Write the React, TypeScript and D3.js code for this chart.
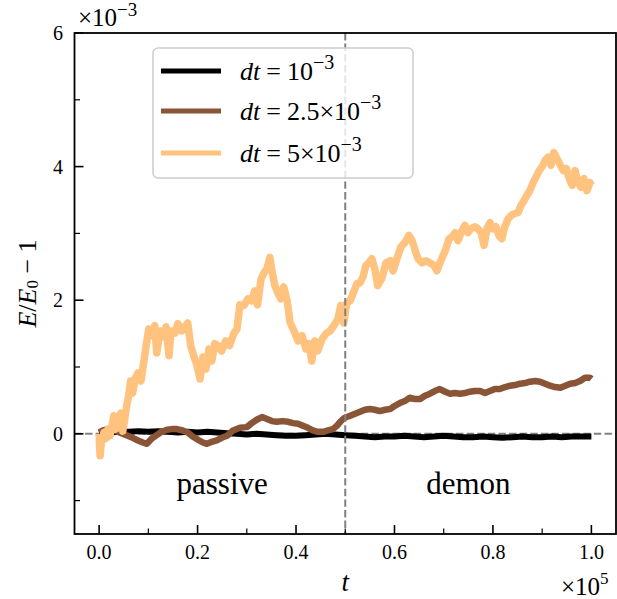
import React from 'react';
import * as d3 from 'd3';

// energy drift E/E0 - 1 (in units of 1e-3) vs t (in units of 1e5)
const driftSmall: [number, number][] = [
  [0, 0], [0.02, 0.02], [0.04, 0.03], [0.06, 0.03], [0.08, 0.04], [0.1, 0.03], [0.12, 0.04],
  [0.14, 0.03], [0.16, 0.02], [0.18, 0.03], [0.2, 0.02], [0.22, 0.03], [0.24, 0.02], [0.26, 0.01],
  [0.28, 0], [0.3, -0.01], [0.32, 0], [0.34, -0.01], [0.36, -0.02], [0.38, -0.03], [0.4, -0.03],
  [0.42, -0.02], [0.44, -0.01], [0.46, 0], [0.48, -0.01], [0.5, -0.02], [0.52, -0.03], [0.54, -0.04],
  [0.56, -0.05], [0.58, -0.04], [0.6, -0.04], [0.62, -0.03], [0.64, -0.04], [0.66, -0.05], [0.68, -0.04],
  [0.7, -0.03], [0.72, -0.04], [0.74, -0.05], [0.76, -0.05], [0.78, -0.04], [0.8, -0.05], [0.82, -0.06],
  [0.84, -0.05], [0.86, -0.04], [0.88, -0.05], [0.9, -0.05], [0.92, -0.04], [0.94, -0.05], [0.96, -0.04],
  [0.98, -0.04], [1.0, -0.04],
];

const driftMid: [number, number][] = [
  [0, 0.02], [0.008, 0.05], [0.018, 0.07], [0.028, 0.06], [0.038, 0.03], [0.048, 0], [0.058, -0.03],
  [0.068, -0.06], [0.079, -0.1], [0.089, -0.13], [0.097, -0.15], [0.107, -0.07], [0.117, -0.02],
  [0.127, 0.03], [0.138, 0.06], [0.148, 0.07], [0.158, 0.07], [0.17, 0.05], [0.18, 0.02], [0.19, -0.04],
  [0.201, -0.09], [0.211, -0.13], [0.219, -0.15], [0.229, -0.12], [0.239, -0.1], [0.249, -0.06],
  [0.26, -0.03], [0.272, 0.05], [0.286, 0.09], [0.3, 0.1], [0.31, 0.16], [0.32, 0.21], [0.331, 0.25],
  [0.341, 0.22], [0.351, 0.19], [0.361, 0.18], [0.373, 0.19], [0.384, 0.18], [0.394, 0.16], [0.404, 0.15],
  [0.414, 0.12], [0.424, 0.09], [0.434, 0.05], [0.444, 0.03], [0.455, 0.03], [0.465, 0.05], [0.475, 0.07],
  [0.483, 0.12], [0.491, 0.19], [0.499, 0.24], [0.51, 0.27], [0.52, 0.3], [0.53, 0.33], [0.54, 0.36],
  [0.55, 0.37], [0.56, 0.36], [0.57, 0.34], [0.581, 0.36], [0.591, 0.37], [0.601, 0.42], [0.611, 0.46],
  [0.621, 0.49], [0.631, 0.54], [0.642, 0.52], [0.652, 0.52], [0.662, 0.57], [0.672, 0.6], [0.682, 0.64],
  [0.692, 0.67], [0.703, 0.63], [0.713, 0.6], [0.723, 0.61], [0.733, 0.6], [0.743, 0.61], [0.753, 0.63],
  [0.763, 0.64], [0.774, 0.64], [0.784, 0.61], [0.794, 0.64], [0.804, 0.67], [0.814, 0.67], [0.825, 0.7],
  [0.835, 0.72], [0.845, 0.73], [0.855, 0.75], [0.865, 0.76], [0.875, 0.78], [0.886, 0.79], [0.896, 0.78],
  [0.906, 0.75], [0.916, 0.72], [0.926, 0.7], [0.937, 0.69], [0.947, 0.72], [0.957, 0.75], [0.967, 0.76],
  [0.977, 0.79], [0.987, 0.84], [0.997, 0.84], [1.0, 0.82],
];

const driftLarge: [number, number][] = [
  [0, 0], [0.001, -0.22], [0.002, -0.33], [0.005, -0.1], [0.01, 0.02], [0.014, -0.07], [0.018, 0.07],
  [0.022, -0.03], [0.026, 0.12], [0.03, 0.27], [0.034, 0.07], [0.038, 0.19], [0.044, 0.31], [0.048, 0.04],
  [0.052, 0.22], [0.056, 0.42], [0.06, 0.57], [0.064, 0.79], [0.068, 0.61], [0.073, 0.82], [0.079, 0.91],
  [0.085, 0.79], [0.091, 1.09], [0.097, 1.39], [0.101, 1.57], [0.107, 1.47], [0.113, 1.62], [0.117, 1.21],
  [0.124, 1.54], [0.13, 1.45], [0.136, 1.6], [0.142, 1.17], [0.146, 1.54], [0.154, 1.51], [0.16, 1.65],
  [0.168, 1.54], [0.174, 1.6], [0.18, 1.66], [0.186, 1.32], [0.192, 1.17], [0.199, 1.02], [0.205, 0.82],
  [0.211, 1.15], [0.217, 0.97], [0.223, 1.27], [0.229, 1.09], [0.235, 1.35], [0.241, 1.32], [0.249, 1.24],
  [0.257, 1.39], [0.265, 1.32], [0.274, 1.51], [0.28, 1.57], [0.286, 1.93], [0.294, 1.92], [0.302, 2.02],
  [0.31, 1.99], [0.316, 2.14], [0.322, 1.93], [0.329, 2.32], [0.335, 2.41], [0.341, 2.47], [0.347, 2.64],
  [0.351, 2.44], [0.357, 2.22], [0.363, 2.11], [0.369, 2.02], [0.375, 2.2], [0.382, 1.99], [0.388, 1.66],
  [0.396, 1.54], [0.404, 1.39], [0.412, 1.47], [0.42, 1.27], [0.426, 1.35], [0.432, 1.09], [0.438, 1.39],
  [0.444, 1.24], [0.453, 1.42], [0.461, 1.5], [0.469, 1.54], [0.477, 1.62], [0.485, 1.72], [0.491, 1.92],
  [0.497, 1.66], [0.503, 1.96], [0.51, 1.99], [0.518, 2.14], [0.524, 2.25], [0.53, 2.26], [0.536, 2.35],
  [0.542, 2.52], [0.548, 2.56], [0.554, 2.62], [0.56, 2.47], [0.566, 2.22], [0.574, 2.32], [0.583, 2.56],
  [0.591, 2.59], [0.597, 2.44], [0.605, 2.62], [0.613, 2.8], [0.621, 2.86], [0.629, 2.97], [0.636, 2.89],
  [0.642, 2.74], [0.648, 2.62], [0.656, 2.56], [0.664, 2.59], [0.672, 2.56], [0.68, 2.52], [0.686, 2.44],
  [0.694, 2.59], [0.703, 2.74], [0.711, 2.92], [0.717, 2.95], [0.723, 3.01], [0.729, 2.89], [0.737, 3.04],
  [0.743, 3.12], [0.749, 3.01], [0.755, 3.07], [0.763, 3.1], [0.769, 3.07], [0.776, 3.01], [0.782, 2.82],
  [0.788, 3.07], [0.794, 3.16], [0.8, 3.07], [0.806, 3.1], [0.812, 2.97], [0.818, 2.92], [0.824, 3.1],
  [0.831, 3.22], [0.837, 3.27], [0.845, 3.3], [0.851, 3.31], [0.857, 3.42], [0.863, 3.49], [0.869, 3.57],
  [0.875, 3.64], [0.881, 3.75], [0.888, 3.85], [0.894, 3.94], [0.9, 4.0], [0.906, 4.09], [0.912, 4.14],
  [0.918, 4.02], [0.924, 4.21], [0.93, 4.12], [0.937, 4.02], [0.943, 3.94], [0.949, 3.97], [0.955, 3.82],
  [0.961, 3.72], [0.967, 3.94], [0.973, 3.76], [0.979, 3.69], [0.985, 3.82], [0.991, 3.64], [0.997, 3.76],
  [1.0, 3.72],
];

const xMajor = [0, 0.2, 0.4, 0.6, 0.8, 1.0];
const xMinor = [0.1, 0.3, 0.5, 0.7, 0.9];
const yMajor = [0, 2, 4, 6];
const yMinor = [-1, 1, 3, 5];

const series = [
  { label: '10', pre: '', data: driftSmall, color: '#000000', width: 6 },
  { label: '10', pre: '2.5×', data: driftMid, color: '#8a5536', width: 6.5 },
  { label: '10', pre: '5×', data: driftLarge, color: '#ffc37f', width: 7.5 },
];

const FONT = "'Liberation Serif', 'Times New Roman', serif";

const App = () => {
  const width = 617;
  const height = 599;
  const left = 74.5, right = 616, top = 33, bottom = 534;

  const x = d3.scaleLinear().domain([-0.05, 1.05]).range([left, right]);
  const y = d3.scaleLinear().domain([-1.5, 6]).range([bottom, top]);

  const line = d3.line<[number, number]>()
    .x(d => x(d[0]))
    .y(d => y(d[1]));

  const legendRows = [71, 111, 153];

  return (
    <svg width={width} height={height}
      style={{ position: 'absolute', left: 0, top: 0, background: '#fff', fontFamily: FONT }}>
      <defs>
        <clipPath id="plot">
          <rect x={left} y={top} width={right - left} height={bottom - top} />
        </clipPath>
      </defs>

      {/* zero reference */}
      <line x1={left} x2={right} y1={y(0)} y2={y(0)} stroke="#808080" strokeWidth={2} strokeDasharray="7.4,3.2" />

      <g clipPath="url(#plot)">
        {series.map((s, i) => (
          <path key={i} d={line(s.data) || ''} fill="none" stroke={s.color} strokeWidth={s.width}
            strokeLinejoin="round" />
        ))}
      </g>

      {/* switch from passive to demon */}
      <line x1={x(0.5)} x2={x(0.5)} y1={top} y2={bottom} stroke="#808080" strokeWidth={2} strokeDasharray="7.4,3.2" />

      <text x={x(0.25)} y={y(-0.9)} textAnchor="middle" fontSize={31}>passive</text>
      <text x={x(0.75)} y={y(-0.9)} textAnchor="middle" fontSize={31}>demon</text>

      {/* axes */}
      <rect x={left} y={top} width={right - left} height={bottom - top} fill="none" stroke="#000" strokeWidth={1.8} />
      {xMajor.map(t => (
        <g key={'xM' + t}>
          <line x1={x(t)} x2={x(t)} y1={bottom} y2={bottom - 9} stroke="#000" strokeWidth={1.6} />
          <text x={x(t)} y={bottom + 25} textAnchor="middle" fontSize={20}>{t.toFixed(1)}</text>
        </g>
      ))}
      {xMinor.map(t => (
        <line key={'xm' + t} x1={x(t)} x2={x(t)} y1={bottom} y2={bottom - 5.5} stroke="#000" strokeWidth={1.2} />
      ))}
      {yMajor.map(v => (
        <g key={'yM' + v}>
          <line x1={left} x2={left + 9} y1={y(v)} y2={y(v)} stroke="#000" strokeWidth={1.6} />
          <text x={63} y={y(v) + 7} textAnchor="end" fontSize={20}>{v}</text>
        </g>
      ))}
      {yMinor.map(v => (
        <line key={'ym' + v} x1={left} x2={left + 5.5} y1={y(v)} y2={y(v)} stroke="#000" strokeWidth={1.2} />
      ))}

      {/* offset texts */}
      <text x={78} y={26} fontSize={25}>×10<tspan dy={-10} fontSize={19}>−3</tspan></text>
      <text x={561} y={595} fontSize={25}>×10<tspan dy={-11} fontSize={17}>5</tspan></text>

      {/* axis labels */}
      <text x={(left + right) / 2} y={591} textAnchor="middle" fontSize={27} fontStyle="italic">t</text>
      <text transform={`translate(27,${(top + bottom) / 2}) rotate(-90)`} textAnchor="middle"
        dominantBaseline="central" fontSize={26}>
        <tspan fontStyle="italic">E</tspan>/<tspan fontStyle="italic">E</tspan>
        <tspan dy={5} fontSize={17}>0</tspan><tspan dy={-5}> − 1</tspan>
      </text>

      {/* legend */}
      <rect x={153} y={48} width={260} height={130} rx={5} fill="#fff" fillOpacity={0.8}
        stroke="#cccccc" strokeWidth={1.5} />
      {series.map((s, i) => (
        <g key={'lg' + i}>
          <line x1={161} x2={221} y1={legendRows[i]} y2={legendRows[i]} stroke={s.color} strokeWidth={5} />
          <text x={240} y={legendRows[i] + 9} fontSize={26}>
            <tspan fontStyle="italic">dt</tspan>
            <tspan dx={6}>=</tspan>
            <tspan dx={6}>{s.pre}{s.label}</tspan>
            <tspan dy={-11} fontSize={20}>−3</tspan>
          </text>
        </g>
      ))}
    </svg>
  );
};

export default App;
